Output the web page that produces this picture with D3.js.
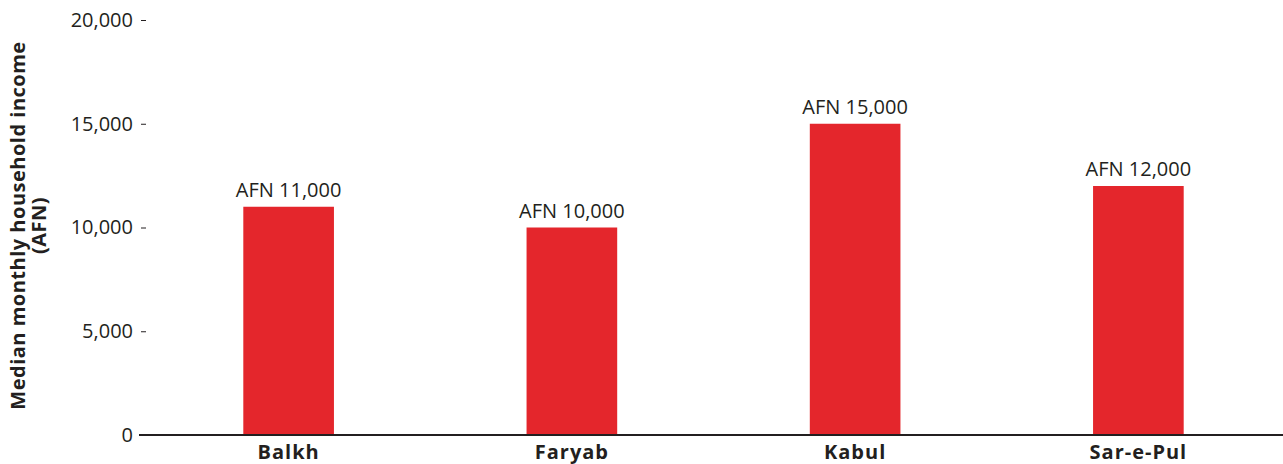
<!DOCTYPE html>
<html>
<head>
<meta charset="utf-8">
<script src="https://cdn.jsdelivr.net/npm/d3@7"></script>
<style>
  body { margin: 0; background: #fff; }
  text { font-family: "Open Sans", Lato, sans-serif; fill: #231f20; }
</style>
</head>
<body>
<script>
var provinces = ["Balkh", "Faryab", "Kabul", "Sar-e-Pul"];
var incomes = [11000, 10000, 15000, 12000];
var yTicks = [0, 5000, 10000, 15000, 20000];

var width = 1283, height = 464;
var margins = {top: 20, left: 147, bottom: 29, right: 3};

var svg = d3.select("body")
    .append("svg")
    .attr("width", width)
    .attr("height", height);

var xScale = d3.scaleBand()
    .domain(provinces)
    .range([margins.left, width - margins.right])
    .paddingInner(0.68)
    .paddingOuter(0.34);

var yScale = d3.scaleLinear()
    .domain([0, 20000])
    .range([height - margins.bottom, margins.top]);

// y axis: tick labels with small dash, no domain line
var yAxis = svg.append("g")
    .attr("transform", "translate(" + margins.left + ",0)")
    .call(d3.axisLeft(yScale).tickValues(yTicks).tickFormat(d3.format(",")).tickSize(6).tickPadding(8));
yAxis.select(".domain").remove();
yAxis.selectAll(".tick line").attr("stroke", "#231f20").attr("x1", -6).attr("x2", -1);
yAxis.selectAll(".tick text").attr("font-size", 20).attr("fill", "#231f20");
yAxis.selectAll(".tick").filter(function(d){ return d === 0; }).select("line").remove();

// bars
svg.selectAll("rect.bar")
    .data(incomes)
    .enter()
    .append("rect")
    .classed("bar", true)
    .attr("x", function(d, i){ return xScale(provinces[i]); })
    .attr("y", function(d){ return yScale(d); })
    .attr("width", xScale.bandwidth())
    .attr("height", function(d){ return yScale(0) - yScale(d); })
    .attr("fill", "#e4262c");

// value labels
svg.selectAll("text.value")
    .data(incomes)
    .enter()
    .append("text")
    .classed("value", true)
    .attr("x", function(d, i){ return xScale(provinces[i]) + xScale.bandwidth() / 2; })
    .attr("y", function(d){ return yScale(d) - 10; })
    .attr("text-anchor", "middle")
    .attr("font-size", 20)
    .text(function(d){ return "AFN " + d3.format(",")(d); });

// x axis baseline + category labels
var xAxis = svg.append("g")
    .attr("transform", "translate(0," + yScale(0) + ")")
    .call(d3.axisBottom(xScale).tickSize(0).tickPadding(0));
xAxis.select(".domain").remove();
xAxis.append("line")
    .attr("x1", 139)
    .attr("x2", width)
    .attr("y1", 0)
    .attr("y2", 0)
    .attr("stroke", "#231f20")
    .attr("stroke-width", 2);
xAxis.selectAll(".tick text")
    .attr("font-size", 20)
    .attr("font-weight", "bold")
    .attr("letter-spacing", 1)
    .attr("fill", "#231f20")
    .attr("y", 24)
    .attr("dy", 0);

// y axis title
var title = svg.append("text")
    .attr("transform", "translate(25," + ((margins.top + yScale(0)) / 2 - 2) + ") rotate(-90)")
    .attr("text-anchor", "middle")
    .attr("font-size", 20)
    .attr("font-weight", "bold")
    .attr("letter-spacing", 0.5);
title.append("tspan").attr("x", 0).attr("dy", 0).text("Median monthly household income");
title.append("tspan").attr("x", 0).attr("dy", 21).text("(AFN)");
</script>
</body>
</html>
